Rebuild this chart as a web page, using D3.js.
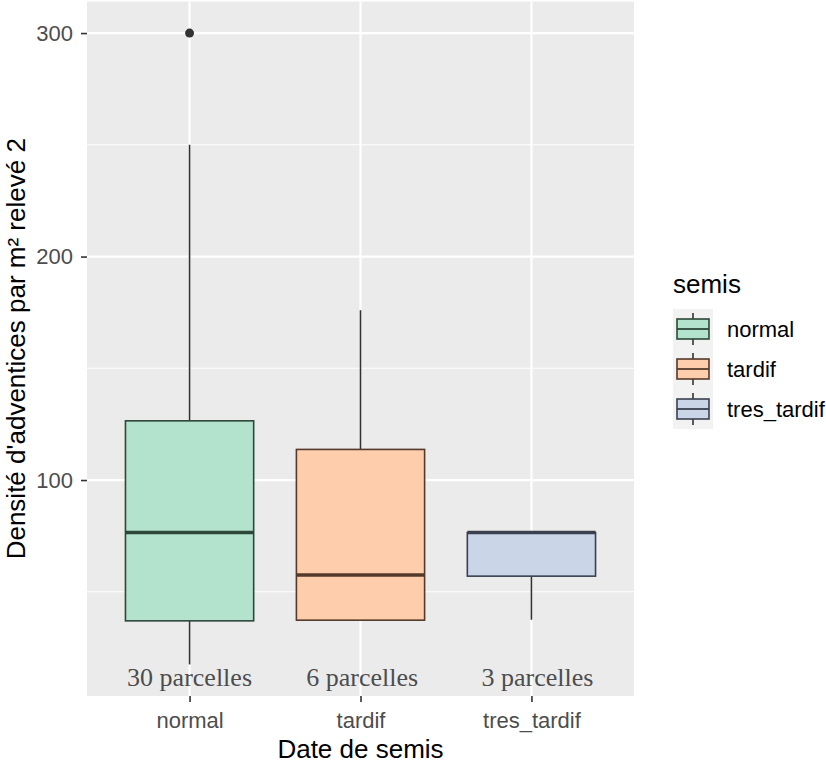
<!DOCTYPE html>
<html>
<head>
<meta charset="utf-8">
<script src="https://cdn.jsdelivr.net/npm/d3@7"></script>
<style>
  html, body { margin: 0; padding: 0; background: #ffffff; }
  svg { display: block; }
</style>
</head>
<body>
<svg id="chart" width="826" height="764"></svg>
<script>
// ---- data ----
const categories = ["normal", "tardif", "tres_tardif"];
const lowerWhisker = [17.5, 37.3, 37.5];
const q1 = [37.0, 37.3, 57.0];
const median = [76.5, 57.5, 76.5];
const q3 = [126.5, 113.7, 76.5];
const upperWhisker = [250, 176, 76.5];
const outlierCat = ["normal"];
const outlierValue = [300];
const annotationText = ["30 parcelles", "6 parcelles", "3 parcelles"];
const annotationX = [1, 2.01, 3.035];
const annotationY = [12, 12, 12];
const yTicks = [100, 200, 300];
const yMinorTicks = [50, 150, 250];
const xTitle = "Date de semis";
const yTitle = "Densité d'adventices par m² relevé 2";
const legendTitle = "semis";

// palette (Pastel2) and outline tints
const fills = ["#b3e2cd", "#fdcdac", "#cbd5e8"];
const strokes = ["#2c4839", "#553a2b", "#3a404e"];

// ---- layout ----
const panel = { left: 87, right: 634, top: 1.5, bottom: 696 };
const sans = "'Liberation Sans', Arial, sans-serif";
const serif = "'Liberation Serif', 'Times New Roman', serif";

const svg = d3.select("#chart");

const allVals = lowerWhisker.concat(upperWhisker, outlierValue, q1, q3);
const dMin = d3.min(allVals), dMax = d3.max(allVals);
const R = dMax - dMin;
const y = d3.scaleLinear()
  .domain([dMin - 0.05 * R, dMax + 0.05 * R])
  .range([panel.bottom, panel.top]);

const xc = d3.scaleLinear()
  .domain([0.4, categories.length + 0.6])
  .range([panel.left, panel.right]);
const xPos = d => xc(categories.indexOf(d) + 1);
const unit = xc(1) - xc(0);
const boxW = 0.75 * unit;

// panel background
svg.append("rect")
  .attr("x", panel.left).attr("y", panel.top)
  .attr("width", panel.right - panel.left)
  .attr("height", panel.bottom - panel.top)
  .attr("fill", "#ebebeb");

// minor grid
svg.append("g").selectAll("line").data(yMinorTicks).join("line")
  .attr("x1", panel.left).attr("x2", panel.right)
  .attr("y1", d => y(d)).attr("y2", d => y(d))
  .attr("stroke", "#ffffff").attr("stroke-width", 1.1);

// major grid
svg.append("g").selectAll("line").data(yTicks).join("line")
  .attr("x1", panel.left).attr("x2", panel.right)
  .attr("y1", d => y(d)).attr("y2", d => y(d))
  .attr("stroke", "#ffffff").attr("stroke-width", 2.2);
svg.append("g").selectAll("line").data(categories).join("line")
  .attr("x1", d => xPos(d)).attr("x2", d => xPos(d))
  .attr("y1", panel.top).attr("y2", panel.bottom)
  .attr("stroke", "#ffffff").attr("stroke-width", 2.2);

// boxplots
const boxes = svg.append("g").selectAll("g").data(categories).join("g");
boxes.each(function(c, i) {
  const g = d3.select(this);
  const cx = xPos(c);
  if (upperWhisker[i] > q3[i]) {
    g.append("line")
      .attr("x1", cx).attr("x2", cx)
      .attr("y1", y(q3[i])).attr("y2", y(upperWhisker[i]))
      .attr("stroke", "#333333").attr("stroke-width", 1.6);
  }
  if (lowerWhisker[i] < q1[i]) {
    g.append("line")
      .attr("x1", cx).attr("x2", cx)
      .attr("y1", y(q1[i])).attr("y2", y(lowerWhisker[i]))
      .attr("stroke", "#333333").attr("stroke-width", 1.6);
  }
  g.append("rect")
    .attr("x", cx - boxW / 2).attr("width", boxW)
    .attr("y", y(q3[i])).attr("height", Math.max(0, y(q1[i]) - y(q3[i])))
    .attr("fill", fills[i])
    .attr("stroke", strokes[i]).attr("stroke-width", 1.6);
  g.append("line")
    .attr("x1", cx - boxW / 2).attr("x2", cx + boxW / 2)
    .attr("y1", y(median[i])).attr("y2", y(median[i]))
    .attr("stroke", strokes[i]).attr("stroke-width", 3.4);
});

// outliers
svg.append("g").selectAll("circle").data(outlierValue).join("circle")
  .attr("cx", (d, i) => xPos(outlierCat[i]))
  .attr("cy", d => y(d))
  .attr("r", 4.5)
  .attr("fill", "#333333");

// annotations
svg.append("g").selectAll("text").data(annotationText).join("text")
  .attr("x", (d, i) => xc(annotationX[i]))
  .attr("y", (d, i) => y(annotationY[i]))
  .attr("dy", "0.36em")
  .attr("text-anchor", "middle")
  .attr("font-family", serif)
  .attr("font-size", 26)
  .attr("fill", "#4d4d4d")
  .text(d => d);

// y axis
const yAxis = svg.append("g")
  .attr("transform", `translate(${panel.left},0)`)
  .call(d3.axisLeft(y).tickValues(yTicks).tickSize(6).tickPadding(8).tickFormat(d3.format("d")));
yAxis.select(".domain").remove();
yAxis.selectAll(".tick line").attr("stroke", "#333333").attr("stroke-width", 1.6);
yAxis.selectAll(".tick text")
  .attr("font-family", sans).attr("font-size", 22).attr("fill", "#4d4d4d");

// x axis
const xAxis = svg.append("g")
  .attr("transform", `translate(0,${panel.bottom})`)
  .call(d3.axisBottom(xc).tickValues(categories.map((c, i) => i + 1))
    .tickFormat(d => categories[d - 1]).tickSize(6));
xAxis.select(".domain").remove();
xAxis.selectAll(".tick line").attr("stroke", "#333333").attr("stroke-width", 1.6);
xAxis.selectAll(".tick text")
  .attr("y", 32).attr("dy", 0)
  .attr("font-family", sans).attr("font-size", 22).attr("fill", "#4d4d4d");

// axis titles
svg.append("text")
  .attr("x", (panel.left + panel.right) / 2)
  .attr("y", 758)
  .attr("text-anchor", "middle")
  .attr("font-family", sans).attr("font-size", 26).attr("fill", "#000000")
  .text(xTitle);

svg.append("text")
  .attr("transform", `translate(25,${(panel.top + panel.bottom) / 2}) rotate(-90)`)
  .attr("text-anchor", "middle")
  .attr("font-family", sans).attr("font-size", 26).attr("fill", "#000000")
  .text(yTitle);

// legend
const leg = svg.append("g").attr("transform", "translate(673,0)");
leg.append("text")
  .attr("x", 0).attr("y", 293)
  .attr("font-family", sans).attr("font-size", 26).attr("fill", "#000000")
  .text(legendTitle);
const keySize = 40, keyTop = 309;
const items = leg.selectAll("g.item").data(categories).join("g")
  .attr("class", "item")
  .attr("transform", (d, i) => `translate(0,${keyTop + i * keySize})`);
items.append("rect")
  .attr("width", keySize).attr("height", keySize)
  .attr("fill", "#f2f2f2");
items.append("line")
  .attr("x1", keySize / 2).attr("x2", keySize / 2)
  .attr("y1", keySize * 0.1).attr("y2", keySize * 0.9)
  .attr("stroke", "#333333").attr("stroke-width", 1.6);
items.append("rect")
  .attr("x", keySize * 0.1).attr("width", keySize * 0.8)
  .attr("y", keySize * 0.25).attr("height", keySize * 0.5)
  .attr("fill", (d, i) => fills[i])
  .attr("stroke", (d, i) => strokes[i]).attr("stroke-width", 1.6);
items.append("line")
  .attr("x1", keySize * 0.1).attr("x2", keySize * 0.9)
  .attr("y1", keySize / 2).attr("y2", keySize / 2)
  .attr("stroke", (d, i) => strokes[i]).attr("stroke-width", 1.8);
items.append("text")
  .attr("x", keySize + 14).attr("y", keySize / 2)
  .attr("dy", "0.35em")
  .attr("font-family", sans).attr("font-size", 22).attr("fill", "#000000")
  .text(d => d);
</script>
</body>
</html>
